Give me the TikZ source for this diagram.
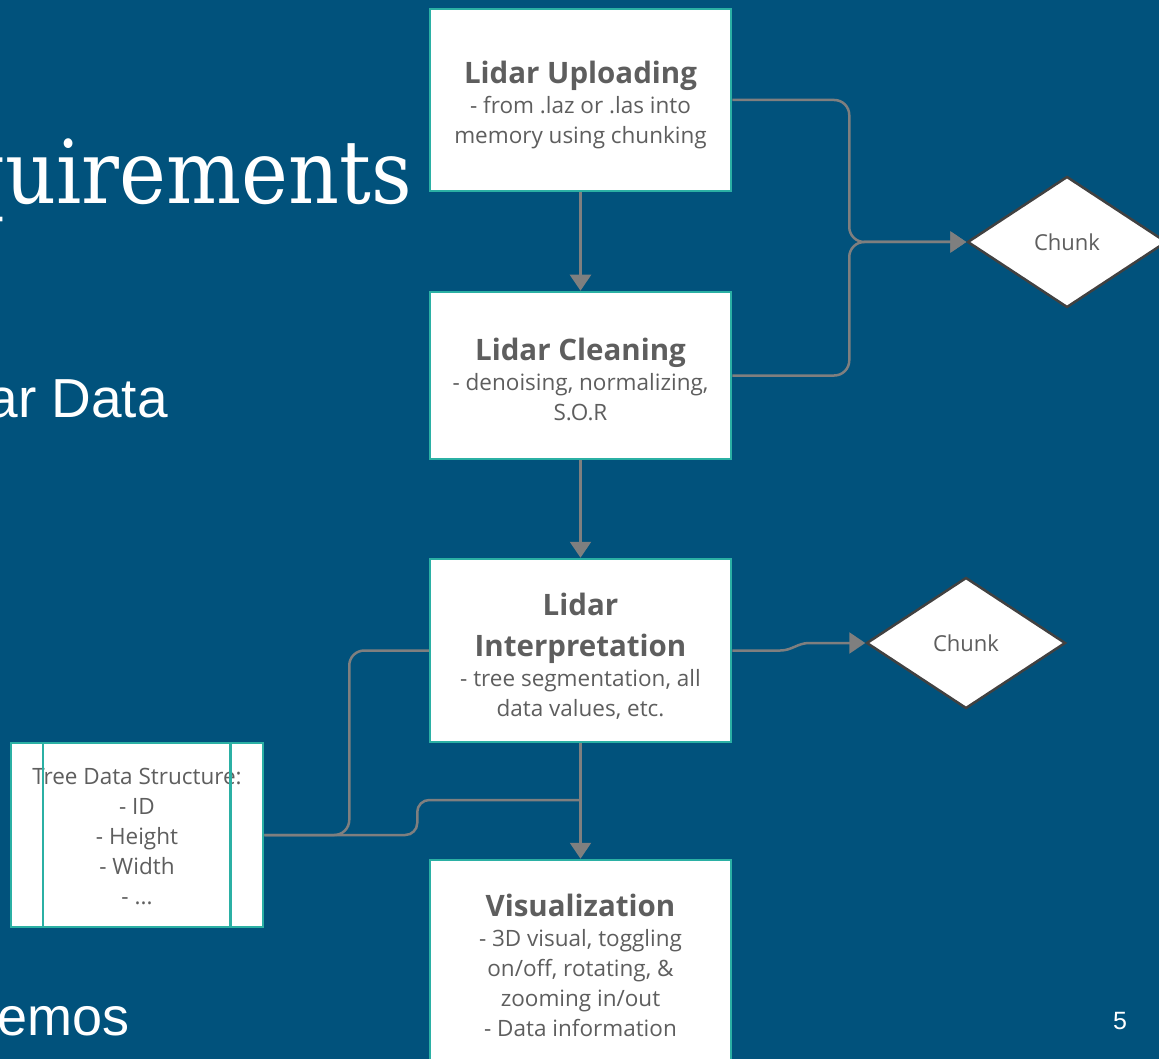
\documentclass[tikz,border=0pt]{standalone}
\usepackage{fontspec}
\usetikzlibrary{arrows.meta,shapes.geometric}
\setmainfont{Open Sans}
\newfontfamily\slabfont{DejaVu Serif Condensed}
\newfontfamily\slidefont{Liberation Sans}

\definecolor{slideblue}{HTML}{01527C}
\definecolor{tealedge}{HTML}{2BB0A4}
\definecolor{inkgray}{HTML}{5E5E5E}
\definecolor{wiregray}{HTML}{7F7F7F}
\definecolor{diamondedge}{HTML}{414141}

\tikzset{
  procbox/.style={draw=tealedge, fill=white, line width=2.5pt,
    inner sep=0pt, minimum width=301pt},
  boxtext/.style={align=center, text=inkgray, inner sep=0pt,
    font=\fontsize{22.5}{30}\selectfont},
  chunkbox/.style={draw=diamondedge, fill=white, line width=2.5pt, diamond,
    inner sep=0pt, minimum width=199pt, minimum height=131pt,
    text=inkgray, font=\fontsize{22}{26}\selectfont},
  wire/.style={draw=wiregray, line width=2.5pt},
  flow/.style={wire, -{Triangle[length=16pt,width=21pt]}},
  slidetext/.style={text=white, inner sep=0pt},
}
\newcommand{\boxtitle}[1]{{\fontsize{29.5}{30}\selectfont\bfseries #1}}

\begin{document}
\begin{tikzpicture}[x=1pt,y=-1pt]
  % slide background
  \fill[slideblue] (0,0) rectangle (1159,1059);
  \useasboundingbox (0,0) rectangle (1159,1059);

  % slide text behind the flowchart
  \node[slidetext, anchor=base east, font=\slabfont\fontsize{88}{96}\selectfont]
    (heading) at (412,204) {quirements};
  \node[slidetext, anchor=base east, font=\slidefont\fontsize{55}{60}\selectfont]
    (bulletA) at (168,417) {ar Data};
  \node[slidetext, anchor=base east, font=\slidefont\fontsize{54}{60}\selectfont]
    (bulletB) at (130,1035) {emos};
  \node[slidetext, anchor=base, font=\slidefont\fontsize{25}{30}\selectfont]
    (pagenum) at (1120,1029) {5};

  % process boxes
  \node[procbox, minimum height=182pt] (up) at (580.5,100) {};
  \node[procbox, minimum height=167pt] (clean) at (580.5,375.5) {};
  \node[procbox, minimum height=183pt] (interp) at (580.5,650.5) {};
  \node[procbox, minimum height=215pt] (vis) at (580.5,967.5) {};
  \node[procbox, minimum width=252pt, minimum height=184pt] (tree) at (137,835) {};

  % box captions
  \node[boxtext] (upText) at (580.5,105)
    {\boxtitle{Lidar Uploading}\\- from .laz or .las into\\memory using chunking};
  \node[boxtext] (cleanText) at (580.5,379)
    {\boxtitle{Lidar Cleaning}\\- denoising, normalizing,\\S.O.R};
  \node[boxtext] (interpText) at (580.5,656)
    {\boxtitle{Lidar}\\[11pt]\boxtitle{Interpretation}\\- tree segmentation, all\\data values, etc.};
  \node[boxtext] (visText) at (580.5,965)
    {\boxtitle{Visualization}\\- 3D visual, toggling\\on/off, rotating, \&\\zooming in/out\\- Data information};
  \node[boxtext] (treeText) at (137,837)
    {Tree Data Structure:\\- ID\\- Height\\- Width\\- ...};

  % the tree record's two inner rules, drawn over its caption
  \draw[tealedge, line width=2.5pt] ([xshift=33pt]tree.north west) -- ([xshift=33pt]tree.south west);
  \draw[tealedge, line width=2.5pt] ([xshift=-34pt]tree.north east) -- ([xshift=-34pt]tree.south east);

  % decision diamonds
  \node[chunkbox] (ch1) at (1067,242) {Chunk};
  \node[chunkbox] (ch2) at (966,643) {Chunk};

  % main flow
  \draw[flow] (up) -- (clean);
  \draw[flow] (clean) -- (interp);
  \draw[flow] (interp) -- (vis);

  % chunking branches
  \draw[flow, rounded corners=15pt] (up.east) -- ++(117,0) |- (ch1.west);
  \draw[flow, rounded corners=15pt] (clean.east) -- ++(117,0) |- (ch1.west);
  \draw[flow] (interp.east) -- ++(48,0) to[out=0,in=180] ([xshift=-56pt]ch2.west) -- (ch2.west);

  % tree record links
  \coordinate (tap) at (580.5,800);
  \draw[wire, rounded corners=15pt] (tree.east) -- ++(85,0) |- (interp.west);
  \draw[wire, rounded corners=12pt] (tree.east) -- ++(153,0) |- (tap);
\end{tikzpicture}
\end{document}
